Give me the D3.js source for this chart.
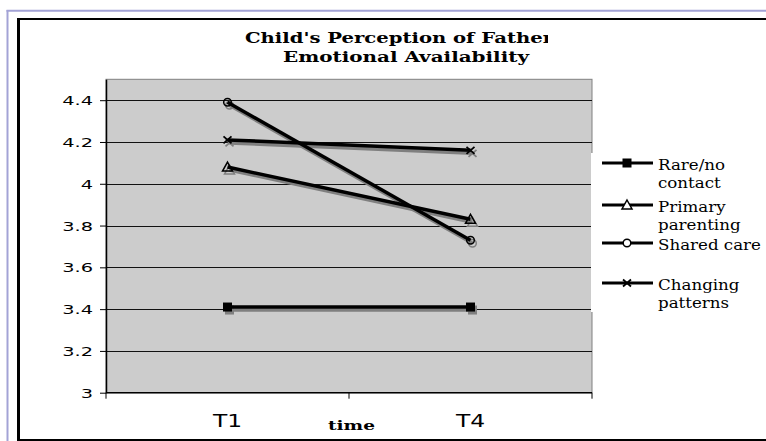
<!DOCTYPE html>
<html><head><meta charset="utf-8">
<script src="https://cdn.jsdelivr.net/npm/d3@7"></script>
<style>body{margin:0;background:#fff;}svg{display:block;}
.serif{font-family:"DejaVu Serif",serif;}
.sans{font-family:"DejaVu Sans",Verdana,sans-serif;}
</style>
</head><body>
<svg id="c" width="766" height="441"></svg>
<script>
const categories = ["T1", "T4"];
const seriesNames = ["Rare/no contact", "Primary parenting", "Shared care", "Changing patterns"];
const legendLines = [["Rare/no", "contact"], ["Primary", "parenting"], ["Shared care"], ["Changing", "patterns"]];
const markers = ["square", "triangle", "circle", "cross"];
const rareNo = [3.41, 3.41];
const primary = [4.08, 3.83];
const shared = [4.39, 3.73];
const changing = [4.21, 4.16];
const yTicks = [3, 3.2, 3.4, 3.6, 3.8, 4, 4.2, 4.4];
const yTickLabels = ["3", "3.2", "3.4", "3.6", "3.8", "4", "4.2", "4.4"];
const titleLines = ["Child's Perception of Father", "Emotional Availability"];
const xTitle = "time";

const values = [rareNo, primary, shared, changing];
const svg = d3.select("#c");

// frames
svg.append("line").attr("x1", 7.5).attr("x2", 7.5).attr("y1", 10).attr("y2", 441).attr("stroke", "#a3a3d6").attr("stroke-width", 2);
svg.append("line").attr("x1", 6.5).attr("x2", 766).attr("y1", 10.8).attr("y2", 10.8).attr("stroke", "#a3a3d6").attr("stroke-width", 2);
svg.append("line").attr("x1", 18.5).attr("x2", 18.5).attr("y1", 18).attr("y2", 441).attr("stroke", "#000").attr("stroke-width", 3);
svg.append("line").attr("x1", 17).attr("x2", 766).attr("y1", 19).attr("y2", 19).attr("stroke", "#000").attr("stroke-width", 2);
svg.append("line").attr("x1", 17).attr("x2", 766).attr("y1", 440).attr("y2", 440).attr("stroke", "#000").attr("stroke-width", 2);

const L = 106, R = 592, T = 79.3, B = 392.7;
const x = d3.scaleBand().domain(categories).range([L, R]);
const y = d3.scaleLinear().domain([3, 4.5]).range([B, T]);

// plot area
svg.append("rect").attr("x", L).attr("y", T).attr("width", R - L).attr("height", B - T)
  .attr("fill", "#cccccc").attr("stroke", "#808080").attr("stroke-width", 1);

// gridlines
svg.append("g").selectAll("line").data(yTicks.slice(1)).join("line")
  .attr("x1", L).attr("x2", R).attr("y1", d => Math.round(y(d)) + 0.5).attr("y2", d => Math.round(y(d)) + 0.5)
  .attr("stroke", "#111").attr("stroke-width", 1);

// y axis
const yAxis = svg.append("g").attr("transform", `translate(${L},0)`)
  .call(d3.axisLeft(y).tickValues(yTicks).tickFormat((d, i) => yTickLabels[i]).tickSize(6).tickSizeOuter(0));
yAxis.attr("font-family", null);
yAxis.select(".domain").attr("stroke", "#000").attr("stroke-width", 1.5);
yAxis.selectAll(".tick line").attr("stroke", "#000");
yAxis.selectAll(".tick text").attr("x", 0).attr("dy", null)
  .attr("transform", "translate(-13,4.5) scale(1.55,1)")
  .attr("class", "sans").attr("font-size", 12.5).attr("fill", "#000")
  .attr("text-anchor", "end");

// x axis
const xAxis = svg.append("g").attr("transform", `translate(0,${B})`);
xAxis.append("line").attr("x1", L).attr("x2", R).attr("y1", 0).attr("y2", 0).attr("stroke", "#000").attr("stroke-width", 1.5);
const bounds = [L, L + x.bandwidth(), R];
xAxis.selectAll("line.tk").data(bounds).join("line").attr("class", "tk")
  .attr("x1", d => d).attr("x2", d => d).attr("y1", 0).attr("y2", 6).attr("stroke", "#000");
xAxis.selectAll("text").data(categories).join("text").attr("class", "sans")
  .attr("transform", d => `translate(${x(d) + x.bandwidth() / 2},34.5) scale(1.3,1)`)
  .attr("text-anchor", "middle").attr("font-size", 18).text(d => d);

// x title
svg.append("text").attr("class", "serif").attr("x", 328).attr("y", 430).attr("font-weight", "bold")
  .attr("font-size", 13).attr("textLength", 47).attr("lengthAdjust", "spacingAndGlyphs").text(xTitle);

// title
svg.append("clipPath").attr("id", "tclip").append("rect").attr("x", 0).attr("y", 0).attr("width", 548).attr("height", 80);
svg.append("text").attr("class", "serif").attr("clip-path", "url(#tclip)").attr("x", 245).attr("y", 43.3)
  .attr("font-weight", "bold").attr("font-size", 15).attr("textLength", 308).attr("lengthAdjust", "spacingAndGlyphs").text(titleLines[0]);
svg.append("text").attr("class", "serif").attr("x", 283).attr("y", 61.5)
  .attr("font-weight", "bold").attr("font-size", 15).attr("textLength", 246).attr("lengthAdjust", "spacingAndGlyphs").text(titleLines[1]);

// marker drawing
function drawMarker(g, type, cx, cy, color, fill) {
  if (type === "square") {
    g.append("rect").attr("x", cx - 4.5).attr("y", cy - 4.5).attr("width", 9).attr("height", 9).attr("fill", color);
  } else if (type === "triangle") {
    g.append("path").attr("d", `M${cx},${cy - 5}L${cx + 5},${cy + 4}L${cx - 5},${cy + 4}Z`)
      .attr("fill", fill).attr("stroke", color).attr("stroke-width", 1.5);
  } else if (type === "circle") {
    g.append("circle").attr("cx", cx).attr("cy", cy).attr("r", 3.8).attr("fill", fill).attr("stroke", color).attr("stroke-width", 1.5);
  } else {
    g.append("path").attr("d", `M${cx - 4},${cy - 3.5}L${cx + 4},${cy + 3.5}M${cx - 4},${cy + 3.5}L${cx + 4},${cy - 3.5}`)
      .attr("stroke", color).attr("stroke-width", 1.8);
  }
}

const line = d3.line().x((d, i) => x(categories[i]) + x.bandwidth() / 2).y(d => y(d));

// shadows
const sh = svg.append("g").attr("transform", "translate(2,3)");
values.forEach((vals, si) => {
  sh.append("path").attr("d", line(vals)).attr("fill", "none").attr("stroke", "#7f7f7f").attr("stroke-width", 3.5);
  vals.forEach((v, i) => drawMarker(sh, markers[si], x(categories[i]) + x.bandwidth() / 2, y(v), "#7f7f7f", "none"));
});
// series
const sg = svg.append("g");
values.forEach((vals, si) => {
  sg.append("path").attr("d", line(vals)).attr("fill", "none").attr("stroke", "#000").attr("stroke-width", 3.5);
  vals.forEach((v, i) => drawMarker(sg, markers[si], x(categories[i]) + x.bandwidth() / 2, y(v), "#000", "none"));
});

// legend
svg.append("rect").attr("x", 591).attr("y", 153).attr("width", 175).attr("height", 159).attr("fill", "#fff");
const legY = [163, 205, 243, 283];
const lg = svg.append("g");
seriesNames.forEach((name, i) => {
  lg.append("line").attr("x1", 602).attr("x2", 653).attr("y1", legY[i]).attr("y2", legY[i]).attr("stroke", "#000").attr("stroke-width", 3);
  drawMarker(lg, markers[i], 627, legY[i], "#000", "#fff");
  legendLines[i].forEach((t, k) => {
    lg.append("text").attr("class", "serif").attr("transform", `translate(658,${legY[i] + 6.5 + k * 18}) scale(1.15,1)`)
      .attr("font-size", 14.5).text(t);
  });
});
</script>
</body></html>
